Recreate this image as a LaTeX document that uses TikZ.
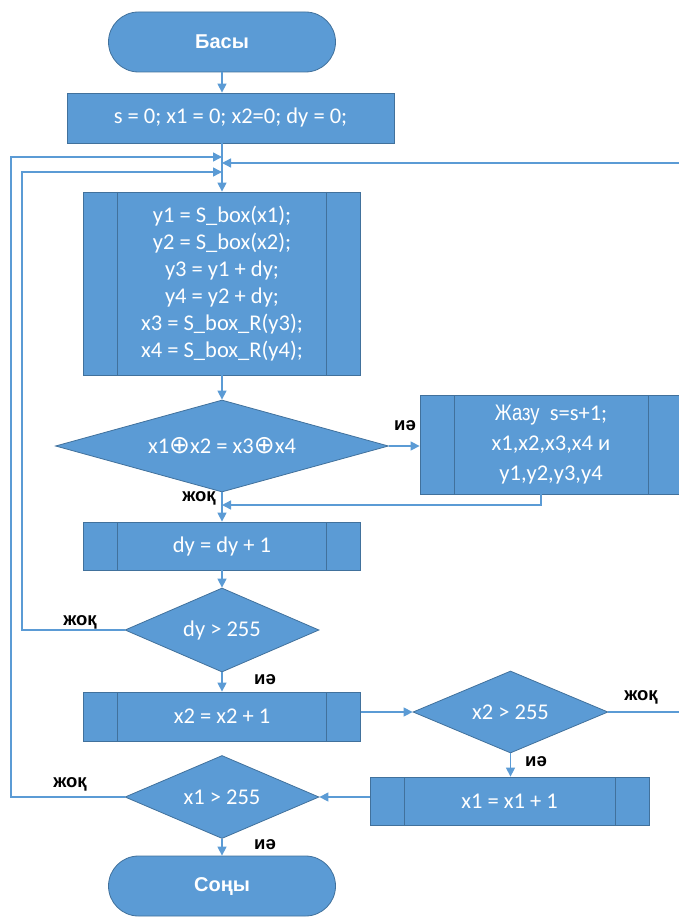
\documentclass[tikz,border=0pt]{standalone}
\usepackage{fontspec}
\setmainfont{Carlito}
\newfontfamily\lblfont{Liberation Sans}
\newfontfamily\narrowfont[FakeStretch=0.82]{Liberation Sans}
\newfontfamily\symfont{DejaVu Sans}
\usepackage{tikz}
\usetikzlibrary{shapes.geometric,shapes.misc,arrows.meta}
\definecolor{boxfill}{HTML}{5B9BD5}
\definecolor{boxedge}{HTML}{41719C}
\definecolor{flowcol}{HTML}{5B9BD5}
\newcommand{\xorsym}{{\symfont\fontsize{25}{27}\selectfont\char"2295}}
\tikzset{
  >={Triangle[length=9pt,width=9pt]},
  blk/.style={draw=boxedge,fill=boxfill,line width=0.8pt,text=white,
    font=\fontsize{22.5}{27}\selectfont,inner sep=2pt,align=center},
  term/.style={blk,rounded rectangle,minimum width=231pt,minimum height=60pt,
    font=\lblfont\bfseries\fontsize{20}{24}\selectfont},
  procbox/.style={blk,rectangle},
  subproc/.style={procbox,path picture={
    \draw[boxedge,line width=0.8pt]
      ([xshift=34pt]path picture bounding box.north west) --
      ([xshift=34pt]path picture bounding box.south west);
    \draw[boxedge,line width=0.8pt]
      ([xshift=-34pt]path picture bounding box.north east) --
      ([xshift=-34pt]path picture bounding box.south east);}},
  decide/.style={blk,diamond,inner sep=0pt,shape aspect=2.3},
  flow/.style={->,draw=flowcol,line width=1.4pt},
  ynlbl/.style={font=\lblfont\bfseries\fontsize{18.5}{20}\selectfont,inner sep=1pt},
}
\begin{document}
\begin{tikzpicture}[x=1pt,y=-1pt]
  \useasboundingbox (0,0) rectangle (678,917);
  % blocks
  \node[term] (start) at (222,42) {Басы};
  \node[procbox,minimum width=327pt,minimum height=50pt] (init) at (230.5,118)
    {s = 0; x1 = 0; x2=0; dy = 0;};
  \node[subproc,minimum width=277pt,minimum height=183pt] (calc) at (222,283.5)
    {y1 = S\_box(x1);\\y2 = S\_box(x2);\\y3 = y1 + dy;\\y4 = y2 + dy;\\
     x3 = S\_box\_R(y3);\\x4 = S\_box\_R(y4);};
  \node[decide,shape aspect=3.5,minimum width=333pt,minimum height=92pt] (d1)
    at (222,446) {x1\xorsym x2 = x3\xorsym x4};
  \node[subproc,minimum width=262pt,minimum height=99pt,
    font=\fontsize{22.5}{30}\selectfont] (out) at (551,444.5)
    {{\narrowfont Жазу}\ \ s=s+1;\\x1,x2,x3,x4 и\\y1,y2,y3,y4};
  \node[subproc,minimum width=277pt,minimum height=48pt] (dy) at (222,546)
    {dy = dy + 1};
  \node[decide,minimum width=194pt,minimum height=84pt] (d2) at (222,630)
    {dy > 255};
  \node[subproc,minimum width=277pt,minimum height=49pt] (incx2) at (222,716.5)
    {x2 = x2 + 1};
  \node[decide,minimum width=195pt,minimum height=82pt] (d3) at (510.5,712)
    {x2 > 255};
  \node[subproc,minimum width=279pt,minimum height=48pt] (incx1) at (509.5,801)
    {x1 = x1 + 1};
  \node[decide,minimum width=194pt,minimum height=83pt] (d4) at (222,797)
    {x1 > 255};
  \node[term] (stop) at (222,886) {Соңы};
  % junctions
  \coordinate (jin1) at (222,157);
  \coordinate (jin2) at (222,163);
  \coordinate (jin3) at (222,172);
  \coordinate (jout) at (222,505);
  \coordinate (outer) at (11,0);
  \coordinate (inner) at (22,0);
  \coordinate (offr) at (700,0);
  % flow
  \draw[flow] (start.south) -- (start.south |- init.north);
  \draw[flow] (init.south -| calc) -- (calc.north);
  \draw[flow] (calc.south) -- (d1.north);
  \draw[flow] (d1.east) -- (d1.east -| out.west);
  \draw[flow] ([xshift=-10pt]out.south) |- (jout);
  \draw[flow] (d1.south) -- (dy.north);
  \draw[flow] (dy.south) -- (d2.north);
  \draw[flow] (d2.south) -- (incx2.north);
  \draw[flow] (incx2.east |- d3.west) -- (d3.west);
  \draw[flow] (d3.south) -- (d3.south |- incx1.north);
  \draw[flow] (incx1.west |- d4.east) -- (d4.east);
  \draw[flow] (d4.south) -- (stop.north);
  % loops back
  \draw[flow] (d4.west) -- (d4.west -| outer) -- (outer |- jin1) -- (jin1);
  \draw[flow] (d2.west) -- (d2.west -| inner) -- (inner |- jin3) -- (jin3);
  \draw[flow] (d3.east) -- (d3.east -| offr) -- (offr |- jin2) -- (jin2);
  % yes / no
  \foreach \lx/\ly/\t [count=\i] in {405/426/иә,199/498/жоқ,80/622/жоқ,
      265/680/иә,641/697/жоқ,536/762/иә,70/784/жоқ,265/845/иә} {
    \node[ynlbl] (yn\i) at (\lx,\ly) {\t};
  }
\end{tikzpicture}
\end{document}
